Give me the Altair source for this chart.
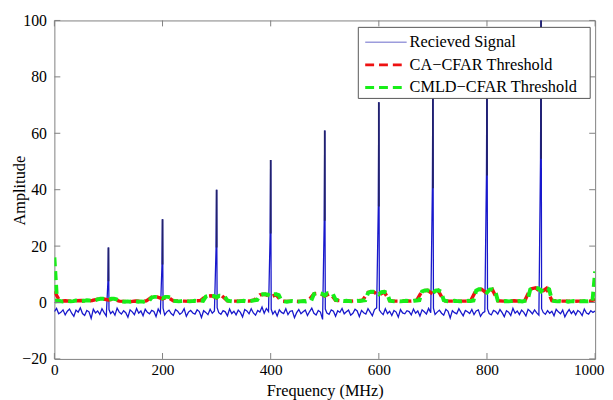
import altair as alt
import pandas as pd

# ---------------- data ----------------
noise_freq = list(range(0, 1001, 4))
noise_amp = [
    -3.2, -2.1, -4.0, -3.5, -2.6, -4.4, -3.1, -2.3, -3.8, -4.9, -2.7, -3.4, -1.9, -3.9, -4.6, -2.8, -3.3, -5.6, -2.4, -3.7, -3.0, -4.2, -2.2, -3.6, -4.8,
    -2.5, -3.9, -3.1, -4.5, -2.0, -3.4, -4.1, -2.9, -3.6, -5.2, -2.6, -3.3, -4.3, -2.1, -3.8, -3.0, -4.7, -2.4, -3.5, -4.0, -2.8, -3.2, -5.0, -2.3, -3.7,
    -2.0, -4.4, -3.3, -2.7, -3.9, -4.6, -2.5, -3.1, -4.2, -3.6, -2.2, -4.9, -3.4, -2.8, -3.7, -4.1, -2.6, -3.2, -5.3, -2.9, -3.5, -4.3, -2.4, -3.8, -3.0,
    -1.8, -3.6, -4.2, -2.9, -3.3, -4.7, -2.3, -3.9, -3.1, -4.4, -2.7, -3.5, -5.1, -2.5, -3.0, -4.0, -2.2, -3.7, -4.5, -2.8, -3.4, -1.6, -3.8, -2.1, -3.2,
    -2.4, -4.1, -3.0, -4.8, -2.6, -3.5, -3.9, -2.2, -4.3, -3.1, -2.9, -5.4, -3.6, -2.5, -4.0, -3.3, -2.7, -4.6, -3.2, -2.0, -3.8, -4.4, -2.8, -3.4, -6.0,
    -2.3, -3.7, -4.2, -2.6, -3.1, -4.9, -2.9, -3.5, -2.1, -4.0, -3.3, -2.7, -4.5, -3.8, -2.4, -3.0, -5.0, -2.8, -3.6, -4.1, -2.2, -3.4, -4.7, -2.5, -1.9,
    -2.7, -3.5, -4.3, -2.2, -3.9, -3.1, -4.6, -2.8, -3.4, -5.2, -2.5, -3.7, -4.0, -2.9, -3.2, -4.4, -2.3, -3.8, -3.0, -4.8, -2.6, -3.3, -4.1, -2.1, -3.6,
    -2.0, -4.2, -3.4, -2.7, -3.8, -4.5, -2.4, -3.1, -5.5, -2.9, -3.6, -4.0, -2.2, -3.5, -4.7, -2.8, -3.3, -3.9, -2.5, -4.3, -3.0, -2.6, -4.9, -3.7, -3.2,
    -2.3, -3.9, -4.4, -2.8, -3.2, -4.1, -2.5, -3.6, -5.0, -2.9, -3.4, -4.6, -2.1, -3.8, -3.0, -4.3, -2.7, -3.5, -4.8, -2.4, -3.1, -4.0, -2.6, -3.7, -4.5,
    -2.2, -3.5, -4.2, -2.9, -3.8, -3.1, -4.7, -2.4, -3.3, -4.0, -2.7, -5.1, -3.6, -2.5, -3.9, -3.0, -4.4, -2.8, -3.4, -4.6, -2.3, -3.7, -4.1, -2.9, -3.5,
    -3.0,
]

peak_freq = [100, 200, 300, 400, 500, 600, 700, 800, 900]
peak_main = [19.5, 29.5, 40.0, 50.5, 61.0, 71.0, 81.0, 91.0, 101.0]
peak_second = [7.5, 13.5, 19.5, 24.5, 29.0, 34.0, 40.5, 45.0, 51.0]

cmld_freq = list(range(0, 1001, 5))
cmld_thr = [
    16.0, 0.4, 0.5, 0.4, 0.6, 0.5, 0.4, 0.5, 0.7, 0.6, 0.5, 0.6, 0.8, 0.7, 0.6, 0.8, 1.1, 1.3, 1.3, 1.2,
    1.0, 1.3, 1.3, 1.1, 0.6, 0.4, 0.3, 0.4, 0.3, 0.4, 0.5, 0.3, 0.4, 0.3, 0.5, 0.6, 1.8, 2.0, 2.0, 1.9,
    1.5, 2.0, 2.0, 1.8, 0.6, 0.5, 0.4, 0.5, 0.6, 0.5, 0.4, 0.5, 0.6, 0.5, 0.7, 0.6, 2.1, 2.4, 2.4, 2.3,
    1.8, 2.4, 2.3, 2.1, 0.7, 0.5, 0.4, 0.5, 0.4, 0.5, 0.6, 0.4, 0.5, 0.6, 0.8, 0.9, 2.6, 2.9, 2.9, 2.8,
    2.2, 2.9, 2.9, 2.6, 0.6, 0.4, 0.3, 0.4, 0.5, 0.4, 0.3, 0.4, 0.5, 0.4, 0.6, 0.7, 3.0, 3.3, 3.3, 3.1,
    2.5, 3.3, 3.2, 3.0, 1.0, 0.8, 0.6, 0.5, 0.6, 0.5, 0.4, 0.5, 0.6, 0.5, 0.7, 0.8, 3.4, 3.8, 3.8, 3.6,
    2.9, 3.7, 3.8, 3.4, 0.7, 0.5, 0.4, 0.5, 0.4, 0.5, 0.6, 0.5, 0.4, 0.6, 0.7, 0.8, 3.9, 4.3, 4.3, 4.1,
    3.3, 4.2, 4.3, 3.9, 0.8, 0.5, 0.4, 0.5, 0.6, 0.5, 0.4, 0.5, 0.4, 0.6, 0.5, 0.7, 4.2, 4.7, 4.7, 4.5,
    3.6, 4.6, 4.7, 4.2, 0.7, 0.5, 0.4, 0.5, 0.4, 0.5, 0.6, 0.4, 0.5, 0.4, 0.6, 0.8, 4.6, 5.2, 5.2, 5.0,
    4.0, 5.1, 5.2, 4.7, 0.8, 0.5, 0.4, 0.5, 0.4, 0.5, 0.3, 0.4, 0.5, 0.4, 0.5, 0.4, 0.5, 0.4, 0.5, 0.4,
    11.0,
]

ca_freq = list(range(0, 1001, 10))
ca_thr = [
    4.0, 0.5, 0.6, 0.5, 0.6, 0.7, 0.6, 0.7, 1.2, 1.3,
    0.9, 1.2, 0.5, 0.4, 0.3, 0.5, 0.4, 0.6, 1.9, 2.0,
    1.3, 1.9, 0.6, 0.5, 0.5, 0.4, 0.6, 0.7, 2.2, 2.4,
    1.6, 2.3, 0.6, 0.5, 0.5, 0.6, 0.5, 0.9, 2.7, 2.9,
    2.0, 2.8, 0.5, 0.4, 0.5, 0.4, 0.5, 0.7, 3.1, 3.3,
    2.3, 3.2, 0.8, 0.6, 0.6, 0.5, 0.6, 0.8, 3.6, 3.8,
    2.6, 3.7, 0.6, 0.5, 0.5, 0.6, 0.5, 0.8, 4.1, 4.3,
    3.0, 4.2, 0.6, 0.5, 0.5, 0.5, 0.5, 0.7, 4.4, 4.7,
    3.2, 4.6, 0.6, 0.5, 0.5, 0.6, 0.5, 0.7, 4.8, 5.2,
    3.6, 5.0, 0.7, 0.5, 0.5, 0.5, 0.4, 0.5, 0.5, 0.5,
    1.0,
]

x_ticks = [0, 200, 400, 600, 800, 1000]
y_ticks = [-20, 0, 20, 40, 60, 80, 100]
legend_labels = ["Recieved Signal", "CA\u2212CFAR Threshold", "CMLD\u2212CFAR Threshold"]

# ---------------- build tables ----------------
rx = pd.DataFrame({"f": noise_freq, "a": noise_amp})
extra = []
for f, m, s in zip(peak_freq, peak_main, peak_second):
    base = rx.loc[rx.f == f, "a"].iloc[0]
    extra.append((f - 1, s))
    extra.append((f + 1, base))
    rx.loc[rx.f == f, "a"] = m
rx = pd.concat([rx, pd.DataFrame(extra, columns=["f", "a"])]).sort_values("f").reset_index(drop=True)

peaks = pd.DataFrame({"f": peak_freq, "top": peak_main, "low": peak_second})
cmld = pd.DataFrame({"f": cmld_freq, "a": cmld_thr})
ca = pd.DataFrame({"f": ca_freq, "a": ca_thr})
xt = pd.DataFrame({"v": x_ticks})
yt = pd.DataFrame({"v": y_ticks})
one = pd.DataFrame({"k": [0]})

W, H = 548, 343
FONT = "Liberation Serif"
GREY = "#808080"

xscale = alt.Scale(domain=[0, 1000], nice=False, zero=False)
yscale = alt.Scale(domain=[-20, 100], nice=False, zero=False)

last_x = "datum.value == %d" % x_ticks[-1]
xaxis = alt.Axis(values=x_ticks, title="Frequency (MHz)", grid=False, ticks=False, domain=False,
                 labelFont=FONT, labelFontSize=15.5, labelColor="black", labelPadding=4,
                 labelFlush=False, format="d",
                 labelAlign={"condition": {"test": last_x, "value": "right"}, "value": "center"},
                 labelOffset={"condition": {"test": last_x, "value": 9}, "value": 0},
                 titleFont=FONT, titleFontSize=16.5, titleFontWeight="normal", titleColor="black",
                 titleY=24, titleBaseline="top")
yaxis = alt.Axis(values=y_ticks, title="Amplitude", grid=False, ticks=False, domain=False,
                 labelFont=FONT, labelFontSize=16, labelColor="black", labelPadding=8,
                 labelFlush=False, format="d",
                 labelExpr="replace(datum.label, '-', '\u2212')",
                 titleFont=FONT, titleFontSize=16.5, titleFontWeight="normal", titleColor="black",
                 titleX=-27, titleY=172)

X = alt.X("f:Q", scale=xscale, axis=xaxis)
Y = alt.Y("a:Q", scale=yscale, axis=yaxis)

signal = alt.Chart(rx).mark_line(color="#1818cc", strokeWidth=1.3, clip=True).encode(x=X, y=Y)
spikes = alt.Chart(peaks).mark_rule(color="#22226c", strokeWidth=1.8, clip=True).encode(
    x=alt.X("f:Q", scale=xscale), y=alt.Y("top:Q", scale=yscale), y2="low:Q")
ca_line = alt.Chart(ca).mark_line(color="#ee1111", strokeWidth=3.5, strokeDash=[9, 5], clip=True).encode(
    x=alt.X("f:Q", scale=xscale), y=alt.Y("a:Q", scale=yscale))
cmld_line = alt.Chart(cmld).mark_line(color="#18ee18", strokeWidth=4, strokeDash=[9, 5], clip=True).encode(
    x=alt.X("f:Q", scale=xscale), y=alt.Y("a:Q", scale=yscale))

tick_b = alt.Chart(xt).mark_rule(color=GREY).encode(x=alt.X("v:Q", scale=xscale), y=alt.value(H), y2=alt.value(H - 6))
tick_t = alt.Chart(xt).mark_rule(color=GREY).encode(x=alt.X("v:Q", scale=xscale), y=alt.value(0), y2=alt.value(6))
tick_l = alt.Chart(yt).mark_rule(color=GREY).encode(y=alt.Y("v:Q", scale=yscale), x=alt.value(0), x2=alt.value(6))
tick_r = alt.Chart(yt).mark_rule(color=GREY).encode(y=alt.Y("v:Q", scale=yscale), x=alt.value(W), x2=alt.value(W - 6))

# legend (manual, MATLAB style)
LX0, LX1, LY0, LY1 = 308, 543, 7, 79
rows_y = [22, 45, 68]
leg_box = alt.Chart(one).mark_rect(fill="white", stroke="#555555", strokeWidth=1).encode(
    x=alt.value(LX0), x2=alt.value(LX1), y=alt.value(LY0), y2=alt.value(LY1))
leg_l1 = alt.Chart(one).mark_rule(color="#9c9cdc", strokeWidth=1.5).encode(
    x=alt.value(315), x2=alt.value(357), y=alt.value(rows_y[0]))
leg_l2 = alt.Chart(one).mark_rule(color="#ee1111", strokeWidth=3, strokeDash=[9, 5]).encode(
    x=alt.value(315), x2=alt.value(357), y=alt.value(rows_y[1]))
leg_l3 = alt.Chart(one).mark_rule(color="#18ee18", strokeWidth=3, strokeDash=[9, 5]).encode(
    x=alt.value(315), x2=alt.value(357), y=alt.value(rows_y[2]))
leg_texts = [
    alt.Chart(one).mark_text(align="left", baseline="middle", font=FONT, fontSize=16.5, color="black").encode(
        x=alt.value(360), y=alt.value(yy), text=alt.value(lbl))
    for lbl, yy in zip(legend_labels, rows_y)
]

chart = alt.layer(
    signal, spikes, ca_line, cmld_line, tick_b, tick_t, tick_l, tick_r,
    leg_box, leg_l1, leg_l2, leg_l3, *leg_texts
).properties(
    width=W, height=H,
    autosize=alt.AutoSizeParams(type="none"),
    padding={"left": 47, "top": 10, "right": 10, "bottom": 39},
    background="white",
).configure_view(stroke=GREY, strokeWidth=1)

chart.save("out.html", embed_options={"renderer": "svg", "actions": False})
